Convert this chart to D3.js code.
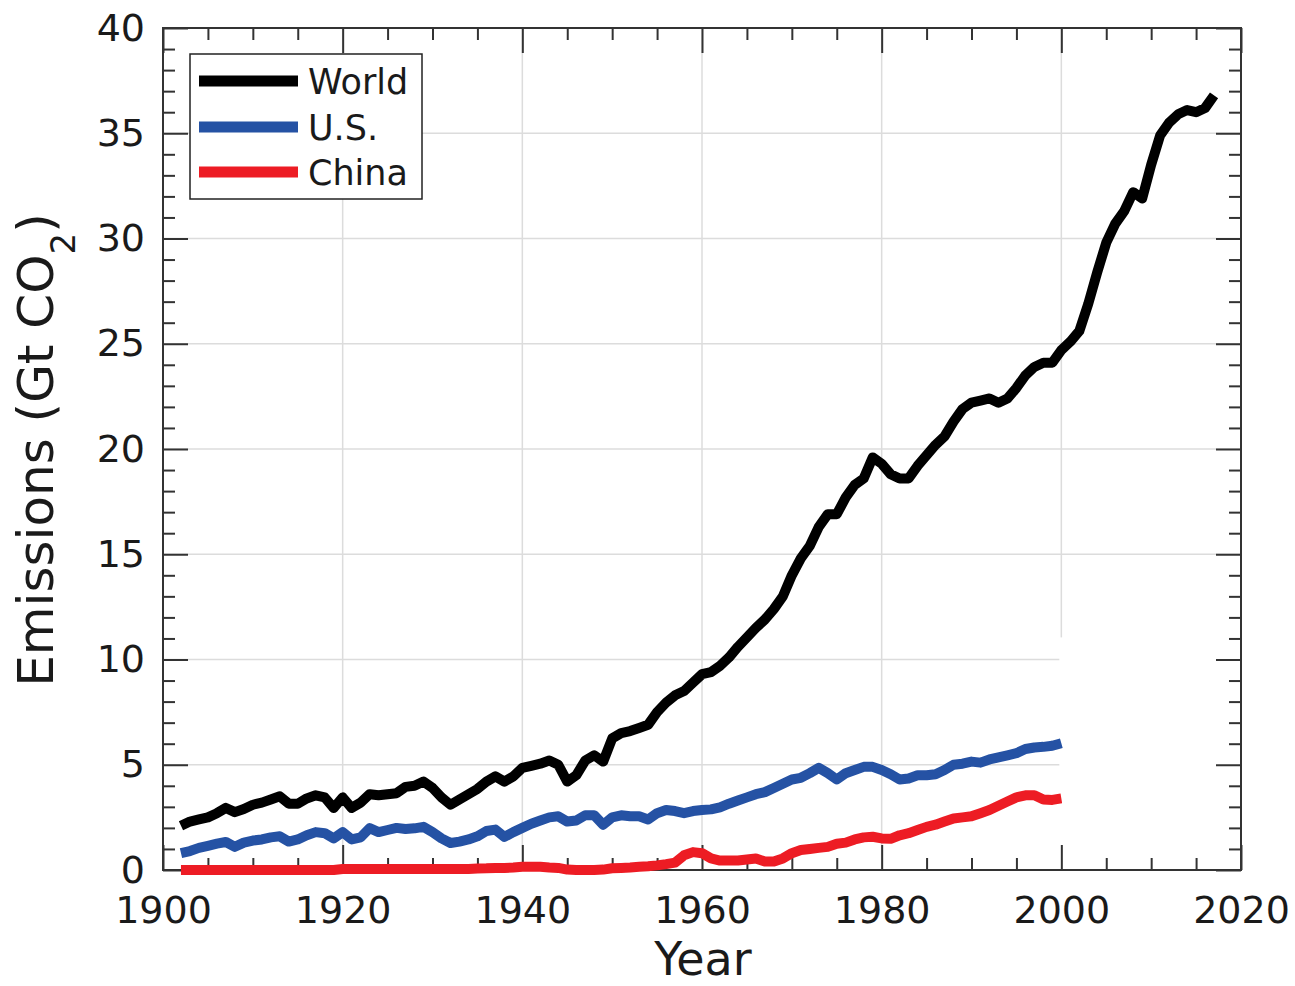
<!DOCTYPE html>
<html>
<head>
<meta charset="utf-8">
<script src="https://cdn.jsdelivr.net/npm/d3@7"></script>
<style>
  html, body { margin: 0; padding: 0; background: #fff; }
  svg { display: block; }
  text { font-family: "DejaVu Sans", sans-serif; fill: #1a1a1a; }
</style>
</head>
<body>
<svg id="chart" width="1295" height="986"></svg>
<script>
// CO2 emissions, Gt CO2 per year
const worldYears = d3.range(1902, 2018);
const worldValues = [
  2.1, 2.3, 2.4, 2.5, 2.7, 2.95, 2.75, 2.9, 3.1,          // 1902-1910
  3.2, 3.35, 3.5, 3.15, 3.15, 3.4, 3.55, 3.45, 2.95, 3.45, // 1911-1920
  2.95, 3.2, 3.6, 3.55, 3.6, 3.65, 3.95, 4.0, 4.2, 3.9,   // 1921-1930
  3.45, 3.1, 3.35, 3.6, 3.85, 4.2, 4.45, 4.2, 4.45, 4.85, // 1931-1940
  4.95, 5.05, 5.2, 5.0, 4.2, 4.5, 5.2, 5.45, 5.15, 6.25,  // 1941-1950
  6.5, 6.6, 6.75, 6.9, 7.5, 7.95, 8.3, 8.5, 8.9, 9.3,     // 1951-1960
  9.4, 9.7, 10.1, 10.6, 11.05, 11.5, 11.9, 12.4, 13.0, 14.0, // 1961-1970
  14.8, 15.4, 16.3, 16.9, 16.9, 17.7, 18.3, 18.6, 19.6, 19.3, // 1971-1980
  18.8, 18.6, 18.6, 19.2, 19.7, 20.2, 20.6, 21.3, 21.9, 22.2, // 1981-1990
  22.3, 22.4, 22.2, 22.4, 22.9, 23.5, 23.9, 24.1, 24.1, 24.7, // 1991-2000
  25.1, 25.6, 26.9, 28.4, 29.8, 30.7, 31.3, 32.2, 31.9, 33.5, // 2001-2010
  34.9, 35.5, 35.9, 36.1, 36.0, 36.2, 36.8                  // 2011-2017
];

const nationYears = d3.range(1902, 2001);
const usValues = [
  0.8, 0.9, 1.05, 1.15, 1.25, 1.33, 1.1, 1.3, 1.4,        // 1902-1910
  1.45, 1.55, 1.6, 1.35, 1.45, 1.65, 1.8, 1.75, 1.5, 1.8, // 1911-1920
  1.45, 1.55, 1.99, 1.8, 1.9, 2.0, 1.95, 1.98, 2.05, 1.8, // 1921-1930
  1.5, 1.28, 1.35, 1.45, 1.6, 1.85, 1.92, 1.57, 1.8, 2.0, // 1931-1940
  2.2, 2.35, 2.5, 2.55, 2.3, 2.35, 2.6, 2.6, 2.15, 2.5,   // 1941-1950
  2.6, 2.55, 2.55, 2.4, 2.7, 2.85, 2.8, 2.7, 2.8, 2.85,   // 1951-1960
  2.88, 2.98, 3.15, 3.3, 3.45, 3.6, 3.7, 3.9, 4.1, 4.3,   // 1961-1970
  4.38, 4.6, 4.85, 4.6, 4.3, 4.6, 4.75, 4.9, 4.9, 4.75,   // 1971-1980
  4.55, 4.3, 4.35, 4.5, 4.5, 4.55, 4.75, 5.0, 5.05, 5.15, // 1981-1990
  5.1, 5.25, 5.35, 5.45, 5.55, 5.75, 5.82, 5.85, 5.9, 6.02 // 1991-2000
];
const chinaValues = [
  0.0, 0.0, 0.0, 0.0, 0.0, 0.0, 0.0, 0.0, 0.0,            // 1902-1910
  0.0, 0.0, 0.0, 0.0, 0.0, 0.0, 0.0, 0.0, 0.0, 0.05,      // 1911-1920
  0.05, 0.05, 0.05, 0.05, 0.05, 0.05, 0.05, 0.05, 0.05, 0.05, // 1921-1930
  0.05, 0.05, 0.05, 0.05, 0.07, 0.08, 0.1, 0.1, 0.12, 0.15,   // 1931-1940
  0.15, 0.15, 0.12, 0.1, 0.02, 0.0, 0.0, 0.0, 0.02, 0.08,     // 1941-1950
  0.1, 0.12, 0.15, 0.18, 0.22, 0.28, 0.35, 0.7, 0.85, 0.8,    // 1951-1960
  0.55, 0.45, 0.45, 0.45, 0.5, 0.55, 0.4, 0.4, 0.55, 0.8,     // 1961-1970
  0.95, 1.0, 1.05, 1.1, 1.25, 1.3, 1.45, 1.55, 1.58, 1.5,     // 1971-1980
  1.48, 1.65, 1.75, 1.9, 2.05, 2.15, 2.3, 2.45, 2.5, 2.55,    // 1981-1990
  2.7, 2.85, 3.05, 3.25, 3.45, 3.55, 3.55, 3.35, 3.33, 3.4    // 1991-2000
];

const seriesNames = ["World", "U.S.", "China"];
const seriesColors = ["#000000", "#2552a4", "#ed1c24"];

const xTicks = [1900, 1920, 1940, 1960, 1980, 2000, 2020];
const yTicks = [0, 5, 10, 15, 20, 25, 30, 35, 40];

const svg = d3.select("#chart");
const margin = { left: 163, right: 54, top: 28, bottom: 116 };
const W = 1295, H = 986;
const innerW = W - margin.left - margin.right;
const innerH = H - margin.top - margin.bottom;

const x = d3.scaleLinear().domain([1900, 2020]).range([margin.left, margin.left + innerW]);
const y = d3.scaleLinear().domain([0, 40]).range([margin.top + innerH, margin.top]);

const g = svg.append("g");

// grid lines at the interior major ticks
const gridX = xTicks.slice(1, -1), gridY = yTicks.slice(1, -1);
g.append("g").selectAll("line").data(gridX).join("line")
  .attr("x1", d => x(d)).attr("x2", d => x(d))
  .attr("y1", y(0)).attr("y2", y(40))
  .attr("stroke", "#dcdcdc").attr("stroke-width", 1.5);
g.append("g").selectAll("line").data(gridY).join("line")
  .attr("x1", x(1900)).attr("x2", x(2020))
  .attr("y1", d => y(d)).attr("y2", d => y(d))
  .attr("stroke", "#dcdcdc").attr("stroke-width", 1.5);

// blank panel over the lower right corner, after 2000
g.append("rect")
  .attr("x", x(2000) - 2).attr("y", y(11.05))
  .attr("width", x(2020) - x(2000) + 2).attr("height", y(0) - y(11.05))
  .attr("fill", "#fff");

// axes: inward ticks on all four sides
const minorX = d3.range(1905, 2020, 5).filter(d => d % 20 !== 0);
const minorY = d3.range(1, 40, 1).filter(d => d % 5 !== 0);
const majorLen = 25, minorLen = 12;

function styleAxis(sel) {
  sel.select(".domain").remove();
  sel.selectAll(".tick line").attr("stroke", "#333").attr("stroke-width", 2);
}

const bottom = g.append("g").attr("transform", `translate(0,${y(0)})`)
  .call(d3.axisBottom(x).tickValues(xTicks).tickFormat(d3.format("d"))
    .tickSizeInner(-majorLen).tickSizeOuter(0).tickPadding(26));
bottom.call(styleAxis);
bottom.selectAll("text").attr("font-size", 38).attr("fill", "#1a1a1a");
g.append("g").attr("transform", `translate(0,${y(0)})`)
  .call(d3.axisBottom(x).tickValues(minorX).tickFormat("").tickSizeInner(-minorLen).tickSizeOuter(0))
  .call(styleAxis);

g.append("g").attr("transform", `translate(0,${y(40)})`)
  .call(d3.axisTop(x).tickValues(xTicks).tickFormat("").tickSizeInner(-majorLen).tickSizeOuter(0))
  .call(styleAxis);
g.append("g").attr("transform", `translate(0,${y(40)})`)
  .call(d3.axisTop(x).tickValues(minorX).tickFormat("").tickSizeInner(-minorLen).tickSizeOuter(0))
  .call(styleAxis);

const left = g.append("g").attr("transform", `translate(${x(1900)},0)`)
  .call(d3.axisLeft(y).tickValues(yTicks).tickFormat(d3.format("d"))
    .tickSizeInner(-majorLen).tickSizeOuter(0).tickPadding(18));
left.call(styleAxis);
left.selectAll("text").attr("font-size", 38).attr("fill", "#1a1a1a");
g.append("g").attr("transform", `translate(${x(1900)},0)`)
  .call(d3.axisLeft(y).tickValues(minorY).tickFormat("").tickSizeInner(-minorLen).tickSizeOuter(0))
  .call(styleAxis);

g.append("g").attr("transform", `translate(${x(2020)},0)`)
  .call(d3.axisRight(y).tickValues(yTicks).tickFormat("").tickSizeInner(-majorLen).tickSizeOuter(0))
  .call(styleAxis);
g.append("g").attr("transform", `translate(${x(2020)},0)`)
  .call(d3.axisRight(y).tickValues(minorY).tickFormat("").tickSizeInner(-minorLen).tickSizeOuter(0))
  .call(styleAxis);

// plot frame
g.append("rect")
  .attr("x", x(1900)).attr("y", y(40))
  .attr("width", x(2020) - x(1900)).attr("height", y(0) - y(40))
  .attr("fill", "none").attr("stroke", "#333").attr("stroke-width", 2);

// data lines
const line = d3.line().x(d => x(d[0])).y(d => y(d[1]));
const seriesData = [
  d3.zip(worldYears, worldValues),
  d3.zip(nationYears, usValues),
  d3.zip(nationYears, chinaValues)
];
g.append("g").selectAll("path").data(seriesData).join("path")
  .attr("d", line)
  .attr("fill", "none")
  .attr("stroke", (d, i) => seriesColors[i])
  .attr("stroke-width", 10)
  .attr("stroke-linejoin", "round")
  .attr("stroke-linecap", "butt");

// axis titles
svg.append("text")
  .attr("x", (x(1900) + x(2020)) / 2 + 1).attr("y", 975)
  .attr("text-anchor", "middle").attr("font-size", 46)
  .text("Year");

const yTitle = svg.append("text")
  .attr("transform", "translate(53,450) rotate(-90)")
  .attr("text-anchor", "middle").attr("font-size", 50);
yTitle.append("tspan").text("Emissions (Gt CO");
yTitle.append("tspan").attr("font-size", 34).attr("dy", 22).text("2");
yTitle.append("tspan").attr("dy", -22).text(")");

// legend
const legend = svg.append("g");
legend.append("rect")
  .attr("x", 190).attr("y", 54).attr("width", 232).attr("height", 145)
  .attr("fill", "#fff").attr("stroke", "#222").attr("stroke-width", 1.5);
const rowY = [81, 127, 172];
const items = legend.selectAll("g.item").data(seriesNames).join("g").attr("class", "item");
items.append("line")
  .attr("x1", 199).attr("x2", 298)
  .attr("y1", (d, i) => rowY[i]).attr("y2", (d, i) => rowY[i])
  .attr("stroke", (d, i) => seriesColors[i]).attr("stroke-width", 11);
items.append("text")
  .attr("x", 308).attr("y", (d, i) => rowY[i]).attr("dy", "0.36em")
  .attr("font-size", 35)
  .text(d => d);
</script>
</body>
</html>
